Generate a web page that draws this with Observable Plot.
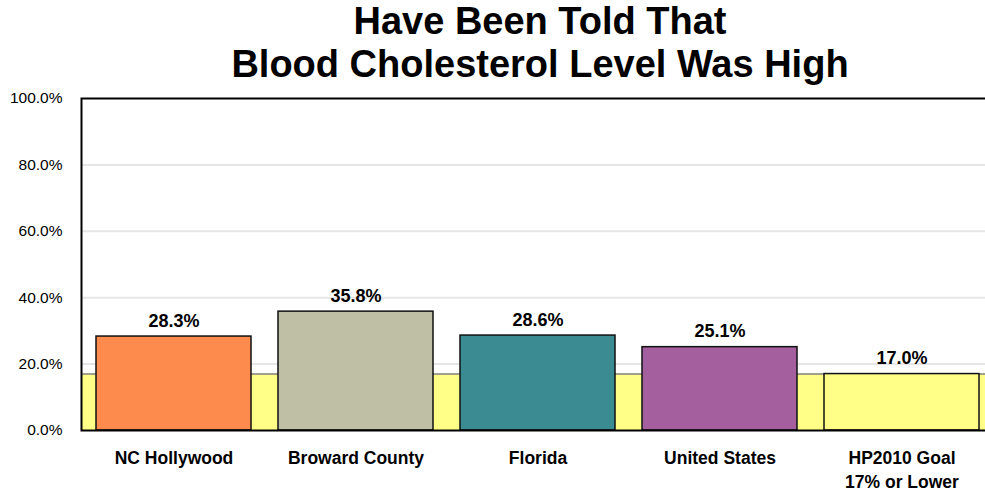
<!DOCTYPE html>
<html>
<head>
<meta charset="utf-8">
<script src="https://cdn.jsdelivr.net/npm/d3@7"></script>
<script src="https://cdn.jsdelivr.net/npm/@observablehq/plot@0.6"></script>
<style>
  html, body { margin: 0; padding: 0; background: #fff; }
  #wrap { width: 985px; height: 491px; overflow: hidden; position: relative; font-family: "Liberation Sans", Arial, sans-serif; }
  #title { height: 85px; box-sizing: border-box; padding-left: 95px; text-align: center; font-weight: bold; font-size: 38px; line-height: 43px; color: #000; }
  #chart svg { display: block; overflow: visible; }
</style>
</head>
<body>
<div id="wrap">
  <div id="title">Have Been Told That<br>Blood Cholesterol Level Was High</div>
  <div id="chart"></div>
</div>
<script>
const categories = ["NC Hollywood", "Broward County", "Florida", "United States", "HP2010 Goal"];
const categoryLabels = ["NC Hollywood", "Broward County", "Florida", "United States", "HP2010 Goal\n17% or Lower"];
const values = [28.3, 35.8, 28.6, 25.1, 17.0];
const colors = ["#FD8B4E", "#BFBFA6", "#3A8C92", "#A35F9E", "#FFFF88"];
const goal = [17];
const yTicks = [0, 20, 40, 60, 80, 100];
const gridTicks = [20, 40, 60, 80];

const data = categories.map((c, i) => ({category: c, label: categoryLabels[i], value: values[i], color: colors[i]}));

const chart = Plot.plot({
  width: 985,
  height: 406,
  marginTop: 13,
  marginBottom: 61,
  marginLeft: 81,
  marginRight: -8.5,
  style: {fontFamily: "Liberation Sans, Arial, sans-serif", background: "transparent", overflow: "visible"},
  x: {domain: categories, paddingInner: 0.15, paddingOuter: 0.075, axis: null},
  y: {domain: [0, 100], axis: null},
  marks: [
    Plot.ruleY(gridTicks, {stroke: "#e6e6e6", strokeWidth: 2}),
    Plot.rectY(goal, {y1: 0, y2: d => d, fill: "#FFFF88"}),
    Plot.ruleY(goal, {stroke: "#808080", strokeWidth: 1.5}),
    Plot.barY(data, {x: "category", y: "value", fill: "color", stroke: "#111", strokeWidth: 1.5}),
    Plot.text(data, {x: "category", y: "value", text: d => d.value.toFixed(1) + "%", lineAnchor: "bottom", dy: -10, fontSize: 18, fontWeight: "bold", fill: "#000"}),
    Plot.text(data, {x: "category", frameAnchor: "bottom", text: "label", lineAnchor: "top", dy: 16, lineHeight: 1.38, fontSize: 17.5, fontWeight: "bold", fill: "#000"}),
    Plot.axisY({ticks: yTicks, tickSize: 0, tickPadding: 19, tickFormat: d => d.toFixed(1) + "%", fontSize: 15.5, fill: "#000", label: null}),
    Plot.frame({stroke: "#000", strokeWidth: 2})
  ]
});
document.getElementById("chart").appendChild(chart);
</script>
</body>
</html>
